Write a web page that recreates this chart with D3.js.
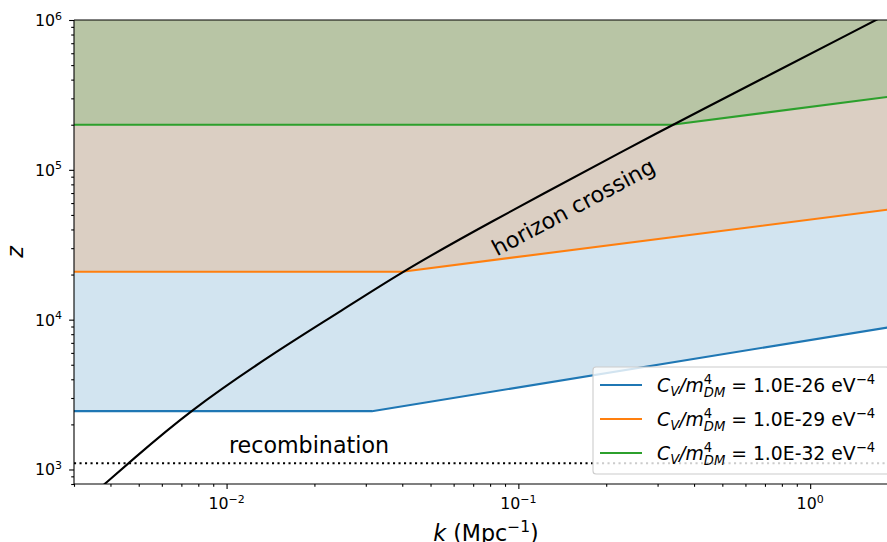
<!DOCTYPE html>
<html>
<head>
<meta charset="utf-8">
<script src="https://cdn.jsdelivr.net/npm/d3@7"></script>
<style>
body{margin:0;background:#fff;}
text{font-family:"DejaVu Sans",sans-serif;fill:#000;}
</style>
</head>
<body>
<script>
// values
var blueK=[0.003,0.0315,2.0];
var blueZ=[2450,2450,9100];
var orangeK=[0.003,0.040,2.0];
var orangeZ=[20900,20900,55300];
var greenK=[0.003,0.336,2.0];
var greenZ=[200000,200000,313000];
var horizonK=[0.0035,0.00384,0.00463,0.00742,0.01452,0.0246,0.0385,0.0738,0.270,0.339,1.68,2.0];
var horizonZ=[690,807,1109,2448,5998,11360,20000,41200,158500,200000,1000000,1190000];
var recombZ=1100;
var legendVals=["1.0E-26","1.0E-29","1.0E-32"];
var colors=["#1f77b4","#ff7f0e","#2ca02c"];
var xTickExp=[-2,-1,0];
var yTickExp=[3,4,5,6];

var W=887,H=542;
var svg=d3.select("body").append("svg").attr("width",W).attr("height",H);
svg.append("rect").attr("width",W).attr("height",H).attr("fill","#fff");

var x=d3.scaleLog().domain([0.003,2]).range([74,898]);
var y=d3.scaleLog().domain([800,1e6]).range([484,20]);

svg.append("clipPath").attr("id","clip").append("rect")
  .attr("x",74).attr("y",20).attr("width",824).attr("height",464);
var plot=svg.append("g").attr("clip-path","url(#clip)");

var series=[[blueK,blueZ],[orangeK,orangeZ],[greenK,greenZ]];
var pts=series.map(function(s){return s[0].map(function(k,i){return [k,s[1][i]];});});

var area=d3.area().x(function(d){return x(d[0]);}).y0(y(1e6)).y1(function(d){return y(d[1]);});
var line=d3.line().x(function(d){return x(d[0]);}).y(function(d){return y(d[1]);});

plot.selectAll("path.fill").data(pts).enter().append("path")
  .attr("class","fill")
  .attr("d",area)
  .attr("fill",function(d,i){return colors[i];})
  .attr("fill-opacity",0.2);

plot.selectAll("path.ln").data(pts).enter().append("path")
  .attr("class","ln")
  .attr("d",line)
  .attr("fill","none")
  .attr("stroke",function(d,i){return colors[i];})
  .attr("stroke-width",2.1);

// horizon crossing curve (smoothed through the read points)
var hor=horizonK.map(function(k,i){return [k,horizonZ[i]];});
plot.append("path")
  .attr("d",d3.line().x(function(d){return x(d[0]);}).y(function(d){return y(d[1]);}).curve(d3.curveBasis)(hor))
  .attr("fill","none").attr("stroke","#000").attr("stroke-width",2.1);

// recombination
plot.append("line")
  .attr("x1",x(0.003)).attr("x2",x(2))
  .attr("y1",y(recombZ)).attr("y2",y(recombZ))
  .attr("stroke","#000").attr("stroke-width",2.1)
  .attr("stroke-dasharray","2.1,3.4");

svg.append("text").attr("x",309).attr("y",453)
  .attr("text-anchor","middle").style("font-size","22.2px").text("recombination");

svg.append("text").attr("transform","translate(577,214) rotate(-28)")
  .attr("text-anchor","middle").style("font-size","22.2px").text("horizon crossing");

// axes
var yMinor=[],xMinor=[];
yTickExp.forEach(function(e){for(var m=2;m<10;m++){var v=m*Math.pow(10,e-1);if(v>=800)yMinor.push(v);}});
[-3,-2,-1,0].forEach(function(e){for(var m=2;m<10;m++){var v=m*Math.pow(10,e);if(v>=0.003&&v<=2)xMinor.push(v);}});

var gy=svg.append("g").attr("transform","translate(74,0)");
gy.call(d3.axisLeft(y).tickValues(yTickExp.map(function(e){return Math.pow(10,e);})).tickSize(4.9).tickFormat(""));
gy.append("g").call(d3.axisLeft(y).tickValues(yMinor).tickSize(2.8).tickFormat(""));
var gx=svg.append("g").attr("transform","translate(0,484)");
gx.call(d3.axisBottom(x).tickValues(xTickExp.map(function(e){return Math.pow(10,e);})).tickSize(4.9).tickFormat(""));
gx.append("g").call(d3.axisBottom(x).tickValues(xMinor).tickSize(2.8).tickFormat(""));
svg.selectAll(".domain").remove();
svg.selectAll(".tick line").attr("stroke","#000").attr("stroke-width",1.1);

// spines
svg.append("line").attr("x1",74).attr("x2",74).attr("y1",20).attr("y2",484).attr("stroke","#000").attr("stroke-width",1.1);
svg.append("line").attr("x1",74).attr("x2",898).attr("y1",484).attr("y2",484).attr("stroke","#000").attr("stroke-width",1.1);
svg.append("line").attr("x1",74).attr("x2",898).attr("y1",20).attr("y2",20).attr("stroke","#000").attr("stroke-width",1.1);

// tick labels
var yl=svg.selectAll("text.ytl").data(yTickExp).enter().append("text")
  .attr("class","ytl").attr("text-anchor","end")
  .attr("x",62).attr("y",function(e){return y(Math.pow(10,e))+6;})
  .style("font-size","15.8px");
yl.append("tspan").text("10");
yl.append("tspan").attr("dy",-6.5).style("font-size","11px").text(function(e){return e;});

var xl=svg.selectAll("text.xtl").data(xTickExp).enter().append("text")
  .attr("class","xtl").attr("text-anchor","middle")
  .attr("x",function(e){return x(Math.pow(10,e));}).attr("y",509)
  .style("font-size","15.8px");
xl.append("tspan").text("10");
xl.append("tspan").attr("dy",-6.5).style("font-size","11px")
  .text(function(e){return e<0?"\u2212"+(-e):e;});

// axis labels
var xlab=svg.append("text").attr("x",486).attr("y",541).attr("text-anchor","middle").style("font-size","22.2px");
xlab.append("tspan").style("font-style","italic").text("k");
xlab.append("tspan").text(" (Mpc");
xlab.append("tspan").attr("dy",-9).style("font-size","15.5px").text("\u22121");
xlab.append("tspan").attr("dy",9).text(")");

svg.append("text").attr("transform","translate(23,252) rotate(-90)")
  .attr("text-anchor","middle").style("font-size","22.2px").style("font-style","italic").text("z");

// legend
var lg=svg.append("g");
lg.append("rect").attr("x",593).attr("y",367).attr("width",296).attr("height",107).attr("rx",3)
  .attr("fill","#fff").attr("fill-opacity",0.8).attr("stroke","#ccc").attr("stroke-width",1.1);
var fs=18.8, sm=fs*0.7;
legendVals.forEach(function(v,i){
  var cy=385+i*34;
  lg.append("line").attr("x1",600).attr("x2",642).attr("y1",cy).attr("y2",cy)
    .attr("stroke",colors[i]).attr("stroke-width",2.1);
  var t=lg.append("text").attr("x",657).attr("y",cy+6.7).style("font-size",fs+"px");
  t.append("tspan").style("font-style","italic").text("C");
  t.append("tspan").style("font-style","italic").style("font-size",sm+"px").attr("dy",4).text("V");
  t.append("tspan").style("font-style","italic").attr("dy",-4).text("/m");
  t.append("tspan").style("font-size",sm+"px").attr("dy",-8).text("4");
  t.append("tspan").style("font-style","italic").style("font-size",sm+"px").attr("dx",-0.636*sm).attr("dy",13.5).text("DM");
  t.append("tspan").attr("dy",-5.5).text(" = "+v+" eV");
  t.append("tspan").style("font-size",sm+"px").attr("dy",-8).text("\u22124");
});
</script>
</body>
</html>
